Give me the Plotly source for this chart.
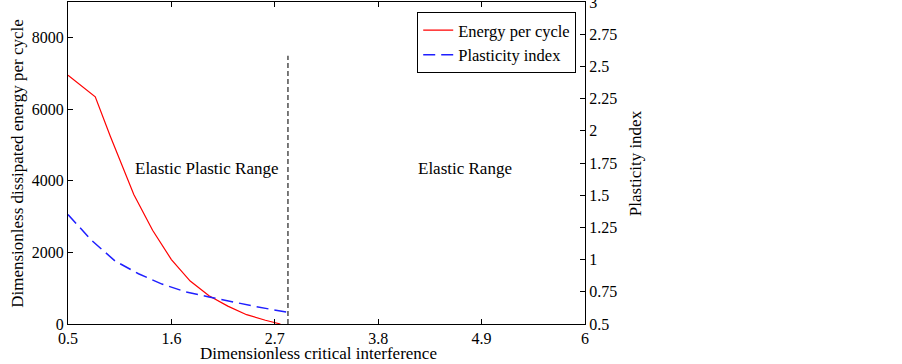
import plotly.graph_objects as go

# Energy per cycle (left axis)
energy_x = [0.5, 0.79, 0.95, 1.05, 1.2, 1.4, 1.6, 1.8, 2.0, 2.2, 2.4, 2.6, 2.76]
energy_y = [6950, 6350, 5250, 4600, 3620, 2620, 1800, 1200, 790, 500, 260, 105, 0]

# Plasticity index (right axis)
plast_x = [0.5, 0.75, 1.0, 1.25, 1.5, 1.75, 2.0, 2.25, 2.5, 2.84]
plast_y = [1.35, 1.15, 0.99, 0.89, 0.81, 0.75, 0.71, 0.67, 0.635, 0.59]

# Boundary between regimes
boundary_x = [2.84, 2.84]
boundary_y = [0, 7500]

x_ticks = [0.5, 1.6, 2.7, 3.8, 4.9, 6]
y_ticks = [0, 2000, 4000, 6000, 8000]
y2_ticks = [0.5, 0.75, 1, 1.25, 1.5, 1.75, 2, 2.25, 2.5, 2.75, 3]
y2_labels = ["0.5", "0.75", "1", "1.25", "1.5", "1.75", "2", "2.25", "2.5", "2.75", "3"]

FONT = "Liberation Serif, Times New Roman, serif"

fig = go.Figure()
fig.add_trace(go.Scatter(x=energy_x, y=energy_y, mode="lines", name="Energy per cycle",
                         line=dict(color="#ff0000", width=1.2), yaxis="y"))
fig.add_trace(go.Scatter(x=plast_x, y=plast_y, mode="lines", name="Plasticity index",
                         line=dict(color="#1f1fff", width=1.5, dash="12px,6px"), yaxis="y2"))
fig.add_trace(go.Scatter(x=boundary_x, y=boundary_y, mode="lines", showlegend=False,
                         line=dict(color="#222222", width=1.2, dash="5px,3px"), yaxis="y"))

fig.update_layout(
    width=902, height=364,
    margin=dict(l=68, r=317, t=2, b=40),
    paper_bgcolor="white", plot_bgcolor="white",
    font=dict(family=FONT, size=16, color="black"),
    xaxis=dict(range=[0.5, 6], tickvals=x_ticks, ticktext=[str(v) for v in x_ticks],
               ticks="inside", ticklen=5, tickcolor="black", showline=True, linecolor="black",
               linewidth=1, mirror="ticks", showgrid=False, zeroline=False, automargin=False,
               tickfont=dict(size=16)),
    yaxis=dict(range=[0, 9000], tickvals=y_ticks, ticks="inside", ticklen=5, tickcolor="black",
               showline=True, linecolor="black", linewidth=1, mirror=True, showgrid=False,
               zeroline=False, automargin=False, tickfont=dict(size=16)),
    yaxis2=dict(range=[0.5, 3.0005], tickvals=y2_ticks, ticktext=y2_labels, overlaying="y",
                side="right", ticks="inside", ticklen=5, tickcolor="black", showline=True,
                linecolor="black", linewidth=1, showgrid=False, zeroline=False,
                automargin=False, tickfont=dict(size=16), ticklabeloverflow="allow"),
    legend=dict(x=0.983, y=0.969, xanchor="right", yanchor="top", bgcolor="white",
                bordercolor="black", borderwidth=1, font=dict(size=16.5),
                tracegroupgap=0, itemwidth=30),
    showlegend=True,
    annotations=[
        dict(x=1.98, y=4335, xref="x", yref="y", text="Elastic Plastic Range",
             showarrow=False, font=dict(size=17)),
        dict(x=4.72, y=4335, xref="x", yref="y", text="Elastic Range",
             showarrow=False, font=dict(size=17)),
        dict(x=0.485, y=0, xref="paper", yref="paper", yanchor="top", yshift=-18,
             text="Dimensionless critical interference", showarrow=False,
             font=dict(size=17)),
        dict(x=-0.099, y=0.5, xref="paper", yref="paper", textangle=-90,
             xanchor="center", yanchor="middle",
             text="Dimensionless dissipated energy per cycle", showarrow=False,
             font=dict(size=17)),
        dict(x=1.097, y=0.5, xref="paper", yref="paper", textangle=-90,
             xanchor="center", yanchor="middle",
             text="Plasticity index", showarrow=False, font=dict(size=17)),
    ],
)

fig.write_html("out.html", config={"displayModeBar": False},
               post_script="document.body.style.margin='0px';document.body.style.padding='0px';")
